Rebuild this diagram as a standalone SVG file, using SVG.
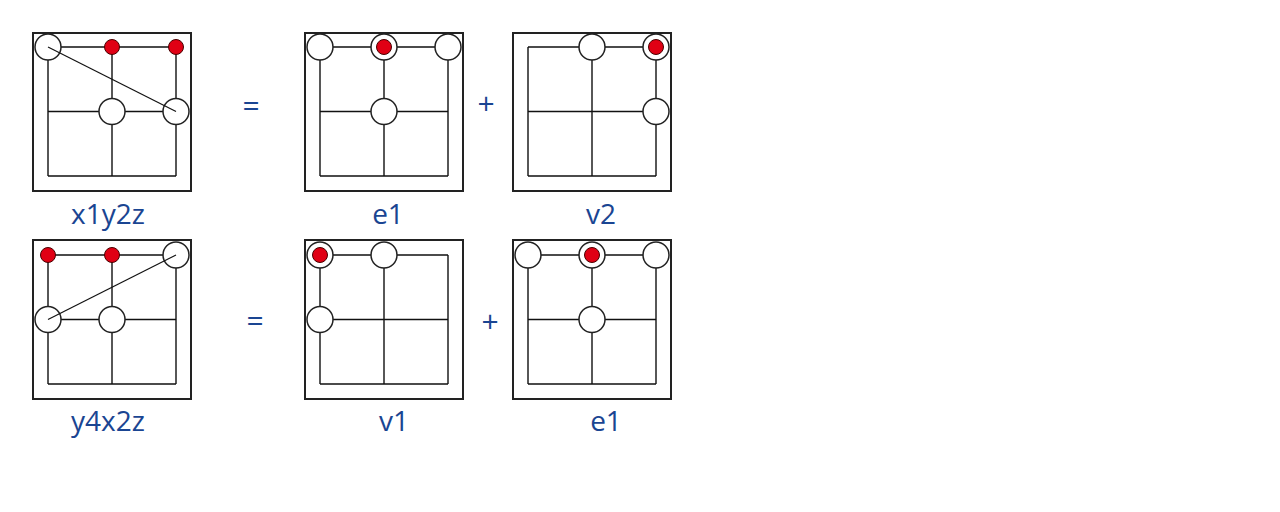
<svg xmlns="http://www.w3.org/2000/svg" width="1280" height="512" viewBox="0 0 1280 512">
<style>
.frame{fill:#fff;stroke:#222;stroke-width:2}
.grid{stroke:#111;stroke-width:1.4;fill:none}
.diag{stroke:#111;stroke-width:1.2}
.w{fill:#fff;stroke:#222;stroke-width:1.5}
.r{fill:#e00014;stroke:#4a0000;stroke-width:1}
.lbl{font-family:"Open Sans","Noto Sans",sans-serif;font-size:28px;fill:#1a4592;text-anchor:middle}
.op{font-family:"Open Sans","Noto Sans",sans-serif;font-size:30px;fill:#1a4592;text-anchor:middle}
</style>
<rect width="1280" height="512" fill="#fff"/>
<defs>
<g id="g"><path class="grid" d="M0 0H128M0 64.5H128M0 129H128M0 0V129M64 0V129M128 0V129"/></g>
</defs>

<g id="p1">
<rect class="frame" x="33" y="33" width="158" height="158"/>
<use href="#g" x="48" y="47"/>
<circle class="w" cx="48" cy="47" r="13"/>
<circle class="r" cx="112" cy="47" r="7.5"/>
<circle class="r" cx="176" cy="47" r="7.5"/>
<circle class="w" cx="112" cy="111.5" r="13"/>
<circle class="w" cx="176" cy="111.5" r="13"/>
<line class="diag" x1="48" y1="47" x2="176" y2="111.5"/>
<text class="lbl" x="108" y="224">x1y2z</text>
</g>

<g id="p2">
<rect class="frame" x="305" y="33" width="158" height="158"/>
<use href="#g" x="320" y="47"/>
<circle class="w" cx="320" cy="47" r="13"/>
<circle class="w" cx="384" cy="47" r="13"/>
<circle class="r" cx="384" cy="47" r="7.5"/>
<circle class="w" cx="448" cy="47" r="13"/>
<circle class="w" cx="384" cy="111.5" r="13"/>
<text class="lbl" x="388" y="224">e1</text>
</g>

<g id="p3">
<rect class="frame" x="513" y="33" width="158" height="158"/>
<use href="#g" x="528" y="47"/>
<circle class="w" cx="592" cy="47" r="13"/>
<circle class="w" cx="656" cy="47" r="13"/>
<circle class="r" cx="656" cy="47" r="7.5"/>
<circle class="w" cx="656" cy="111.5" r="13"/>
<text class="lbl" x="601" y="224">v2</text>
</g>

<g id="p4">
<rect class="frame" x="33" y="240" width="158" height="159"/>
<use href="#g" x="48" y="255"/>
<circle class="r" cx="48" cy="255" r="7.5"/>
<circle class="r" cx="112" cy="255" r="7.5"/>
<circle class="w" cx="176" cy="255" r="13"/>
<circle class="w" cx="48" cy="319.5" r="13"/>
<circle class="w" cx="112" cy="319.5" r="13"/>
<line class="diag" x1="48" y1="319.5" x2="176" y2="255"/>
<text class="lbl" x="108" y="431">y4x2z</text>
</g>

<g id="p5">
<rect class="frame" x="305" y="240" width="158" height="159"/>
<use href="#g" x="320" y="255"/>
<circle class="w" cx="320" cy="255" r="13"/>
<circle class="r" cx="320" cy="255" r="7.5"/>
<circle class="w" cx="384" cy="255" r="13"/>
<circle class="w" cx="320" cy="319.5" r="13"/>
<text class="lbl" x="394" y="431">v1</text>
</g>

<g id="p6">
<rect class="frame" x="513" y="240" width="158" height="159"/>
<use href="#g" x="528" y="255"/>
<circle class="w" cx="528" cy="255" r="13"/>
<circle class="w" cx="592" cy="255" r="13"/>
<circle class="r" cx="592" cy="255" r="7.5"/>
<circle class="w" cx="656" cy="255" r="13"/>
<circle class="w" cx="592" cy="319.5" r="13"/>
<text class="lbl" x="606" y="431">e1</text>
</g>

<g id="ops">
<text class="op" x="251" y="116">=</text>
<text class="op" x="486" y="114">+</text>
<text class="op" x="255" y="331">=</text>
<text class="op" x="490" y="332">+</text>
</g>
</svg>
